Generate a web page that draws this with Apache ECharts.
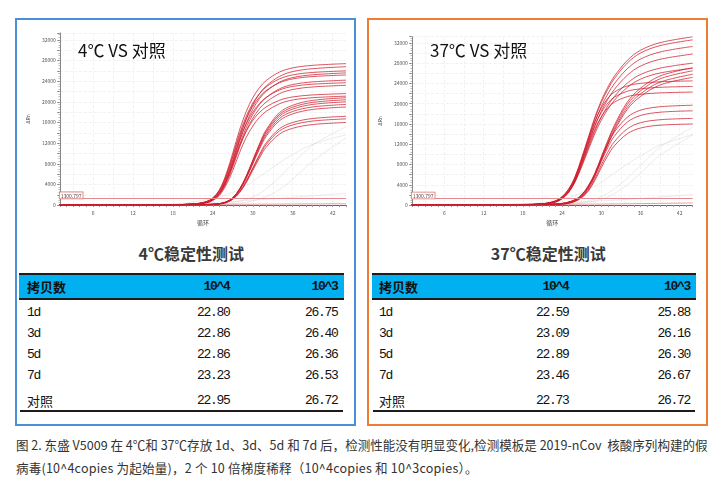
<!DOCTYPE html>
<html><head><meta charset="utf-8">
<script src="https://cdn.jsdelivr.net/npm/echarts@6.0.0/dist/echarts.min.js"></script>
<style>
html,body{margin:0;padding:0;background:#fff;}
body{width:718px;height:485px;position:relative;overflow:hidden;font-family:"Noto Sans CJK SC","Noto Sans",sans-serif;}
.box{position:absolute;top:18px;width:341px;height:408px;box-sizing:border-box;border:2px solid;}
.chart{position:absolute;top:21px;width:334px;height:210px;}
.ttl{position:absolute;font-weight:bold;font-size:16px;color:#3a3a3a;line-height:20px;top:243px;white-space:nowrap;}
.hdr{position:absolute;top:273px;height:27px;background:#00b0f0;border-top:2px solid #1c1c1c;border-bottom:2px solid #1c1c1c;box-sizing:border-box;}
.cell{position:absolute;line-height:20px;height:20px;font-size:13px;color:#111;white-space:nowrap;}
.mono{font-family:"Liberation Mono",monospace;letter-spacing:-1.3px;}
.rule{position:absolute;top:409.5px;height:2px;background:#1c1c1c;}
.cap{position:absolute;left:16px;font-size:12.55px;color:#333;line-height:16px;white-space:nowrap;}
</style></head><body>
<div class="box" style="left:15px;border-color:#4a90d9;"></div>
<div class="box" style="left:367px;border-color:#ee7d31;"></div>
<div id="chartL" class="chart" style="left:18px;"></div>
<div id="chartR" class="chart" style="left:370px;"></div>
<div id="tables"></div>
<div class="cap" style="top:437px;">图 2. 东盛 V5009 在 4℃和 37℃存放 1d、3d、5d 和 7d 后，检测性能没有明显变化,检测模板是 2019-nCov&nbsp; 核酸序列构建的假</div>
<div class="cap" style="top:460px;letter-spacing:0.2px;">病毒(10^4copies 为起始量)，2 个 10 倍梯度稀释（10^4copies 和 10^3copies）。</div>
<script>
// ---------- data ----------
const CYCLES = [1, 18, 21, 23, 24, 25, 26, 27, 28, 29, 30, 31, 32, 34, 36, 39, 44];
const Y_TICKS = [0, 4000, 8000, 12000, 16000, 20000, 24000, 28000, 32000];
const X_TICKS = [6, 12, 18, 24, 30, 36, 42];
const THRESHOLD_4C = 1300.797;
const THRESHOLD_37C = 1300.797;

const AMP_4C_1E4 = [
 [80,110,220,690,1420,3010,6030,10140,14520,18080,20820,22740,24110,25760,26580,27070,27400],
 [80,110,190,540,1130,2410,4960,8580,12860,16620,19430,21570,23050,24920,25860,26420,26800],
 [80,100,210,650,1350,2860,5720,9620,13780,17160,19760,21580,22880,24440,25220,25690,26000],
 [80,100,180,510,1080,2300,4740,8190,12290,15870,18560,20610,22020,23810,24700,25240,25600],
 [80,100,200,630,1310,2770,5540,9320,13360,16630,19150,20920,22180,23690,24440,24900,25200],
 [70,100,170,480,1020,2180,4480,7740,11620,15000,17550,19480,20810,22510,23350,23860,24200],
 [70,95,190,590,1230,2610,5210,8770,12560,15640,18010,19670,20860,22280,22990,23420,23700],
 [70,90,160,460,970,2090,4290,7420,11140,14380,16820,18680,19950,21580,22390,22880,23200],
 [65,90,170,540,1120,2380,4750,7990,11450,14260,16420,17930,19010,20300,20950,21340,21600],
 [60,80,150,420,890,1900,3900,6750,10130,13080,15300,16990,18150,19620,20360,20800,21100]
];
const AMP_4C_1E3 = [
 [60,60,80,120,170,290,620,1460,3120,5620,8740,11860,14560,17890,19340,20280,20800],
 [60,60,80,120,160,290,610,1430,3060,5510,8570,11630,14280,17540,18970,19890,20400],
 [60,60,80,120,160,280,600,1400,3000,5400,8400,11400,14000,17200,18600,19500,20000],
 [60,60,80,120,160,270,590,1370,2930,5270,8190,11120,13650,16770,18140,19010,19500],
 [60,60,80,110,150,270,570,1330,2850,5130,7980,10830,13300,16340,17670,18530,19000],
 [50,50,70,100,140,240,520,1200,2580,4640,7220,9800,12040,14790,16000,16770,17200],
 [50,50,70,100,130,230,500,1170,2510,4510,7010,9520,11690,14360,15530,16280,16700],
 [50,50,60,100,130,220,480,1120,2400,4320,6720,9120,11200,13760,14880,15600,16000]
];
const BG_4C = [
 [0,30,50,80,100,130,180,260,380,560,820,1180,1650,3000,5000,8500,13000],
 [0,40,70,120,160,230,340,500,740,1090,1580,2250,3100,5400,8000,11600,15200],
 [0,100,250,400,480,560,640,720,800,880,960,1040,1120,1300,1500,1800,2300],
 [0,200,600,1000,1300,1600,2000,2500,3100,3800,4600,5500,6400,8200,9800,11800,13600]
];
const NEG_4C = [100,120,130,140,140,150,150,160,160,170,170,180,180,200,210,230,260];

const AMP_37C_1E4 = [
 [100,130,270,830,1660,3150,5640,9300,13280,17260,20580,23240,25400,28550,30540,32040,33200],
 [100,130,260,820,1630,3100,5540,9130,13040,16950,20210,22820,24940,28040,29990,31460,32600],
 [90,130,250,780,1570,2970,5320,8760,12520,16280,19410,21910,23940,26920,28800,30200,31300],
 [90,120,240,750,1490,2830,5070,8340,11920,15500,18480,20860,22800,25630,27420,28760,29800],
 [80,110,220,700,1400,2660,4760,7840,11200,14560,17360,19600,21420,24080,25760,27020,28000],
 [80,110,220,680,1350,2570,4590,7560,10800,14040,16740,18900,20660,23220,24840,26060,27000],
 [70,100,200,640,1350,2700,5150,8820,12740,16420,19110,21070,22300,23520,24010,24330,24500],
 [70,90,190,610,1290,2570,4910,8420,12170,15680,18250,20120,21290,22460,22930,23240,23400],
 [70,90,180,580,1230,2450,4680,8030,11600,14940,17390,19180,20290,21410,21850,22140,22300]
];
const AMP_37C_1E3 = [
 [80,80,140,220,330,600,1080,2030,3790,6230,9490,12740,15720,20330,23040,25470,27100],
 [80,80,130,210,320,580,1060,1990,3710,6100,9280,12460,15370,19880,22530,24910,26500],
 [80,80,130,210,310,570,1030,1940,3610,5930,9030,12130,14960,19350,21930,24250,25800],
 [80,80,130,200,300,550,1010,1890,3530,5800,8820,11840,14620,18900,21420,23690,25200],
 [60,60,100,160,240,430,890,1770,3350,5910,9060,12020,14380,17340,18720,19400,19700],
 [60,60,90,150,220,410,840,1670,3160,5580,8560,11350,13580,16370,17670,18320,18600],
 [50,50,90,140,210,380,770,1540,2910,5130,7870,10430,12480,15050,16250,16840,17100],
 [50,50,80,130,190,350,720,1440,2720,4800,7360,9760,11680,14080,15200,15760,16000]
];
const BG_37C = [
 [0,40,80,140,190,270,390,570,830,1200,1700,2350,3150,5300,7800,11400,15400],
 [0,30,60,100,130,180,260,380,560,820,1180,1650,2250,4000,6300,9800,13800],
 [0,80,200,320,400,470,540,610,680,750,820,890,960,1120,1300,1600,2100],
 [0,150,500,900,1200,1500,1900,2400,3000,3700,4500,5400,6300,8100,9700,11800,13900]
];
const NEG_37C = [100,120,130,140,150,160,170,180,190,200,210,220,230,260,290,340,420];

const ROW_LABELS = ['1d', '3d', '5d', '7d', '对照'];
const HEAD_LABELS = ['拷贝数', '10^4', '10^3'];
const CT_4C_1E4 = [22.80, 22.86, 22.86, 23.23, 22.95];
const CT_4C_1E3 = [26.75, 26.40, 26.36, 26.53, 26.72];
const CT_37C_1E4 = [22.59, 23.09, 22.89, 23.46, 22.73];
const CT_37C_1E3 = [25.88, 26.16, 26.30, 26.67, 26.72];

// ---------- charts ----------
const RED = 'rgba(206,28,44,0.75)';
const GREY = 'rgba(190,190,190,0.3)';
function curveData(arr){ return CYCLES.map((c,i)=>[c, arr[i]]); }
function lineSeries(arr, color, z){
  return {type:'line', data:curveData(arr), symbol:'none', showSymbol:false, smooth:0.35,
    lineStyle:{color:color, width:1}, silent:true, z:z, animation:false};
}
function makeOption(cfg){
  const series = [];
  cfg.grey.forEach(a=>series.push(lineSeries(a, GREY, 2)));
  const neg = lineSeries(cfg.neg, 'rgba(215,60,70,0.5)', 3);
  neg.markLine = {silent:true, symbol:['none','none'], animation:false,
    lineStyle:{color:'#e58b8f', width:1, type:'solid'},
    label:{show:true, position:'insideStartTop', formatter:String(cfg.threshold), fontSize:5, color:'#444',
      backgroundColor:'#fff', borderColor:'#e07070', borderWidth:0.8, padding:[1,1,0,1], distance:[0,0]},
    data:[{yAxis:cfg.threshold}]};
  series.push(neg);
  cfg.groups.forEach(g=>g.forEach(a=>series.push(lineSeries(a, RED, 4))));
  return {
    animation:false,
    textStyle:{fontFamily:'"Noto Sans CJK SC","Noto Sans",sans-serif'},
    title:{text:cfg.title, left:60, top:21, padding:0,
      textStyle:{fontSize:17, fontWeight:'normal', color:'#111', fontFamily:'"Noto Sans CJK SC",sans-serif'}},
    grid:cfg.grid,
    xAxis:{type:'value', min:1, max:44, interval:1, offset:2,
      name:'循环', nameLocation:'middle', nameGap:7, nameTextStyle:{fontSize:6, color:'#444'},
      axisLine:{lineStyle:{color:'#666', width:1}},
      axisTick:{show:true, length:2, lineStyle:{color:'#999'}},
      axisLabel:{fontSize:5, color:'#555', margin:3, formatter:v=>X_TICKS.includes(v)?String(v):''},
      splitLine:{show:true, lineStyle:{color:['rgba(0,0,0,0)','rgba(0,0,0,0)','#efefef'], type:'dashed', width:0.8}}},
    yAxis:{type:'value', min:0, max:cfg.ymax, interval:2000,
      name:'ΔRn', nameLocation:'middle', nameRotate:90, nameGap:18, nameTextStyle:{fontSize:5, color:'#444'},
      axisLine:{show:true, lineStyle:{color:'#888', width:1}},
      axisTick:{show:true, length:2.5, lineStyle:{color:'#888'}},
      minorTick:{show:true, splitNumber:4, length:1.2, lineStyle:{color:'#aaa'}},
      axisLabel:{fontSize:5, color:'#555', margin:4, showMaxLabel:false, formatter:v=>Y_TICKS.includes(v)?String(v):''},
      splitLine:{show:true, lineStyle:{color:'#efefef', type:'dashed', width:0.8}}},
    series:series
  };
}
const chartL = echarts.init(document.getElementById('chartL'));
chartL.setOption(makeOption({title:'4℃ VS 对照', grid:{left:33, right:6, top:12, bottom:23}, ymax:33333,
  threshold:THRESHOLD_4C, grey:BG_4C, neg:NEG_4C, groups:[AMP_4C_1E4, AMP_4C_1E3]}));
const chartR = echarts.init(document.getElementById('chartR'));
chartR.setOption(makeOption({title:'37℃ VS 对照', grid:{left:32.7, right:11.3, top:15.7, bottom:23}, ymax:33222,
  threshold:THRESHOLD_37C, grey:BG_37C, neg:NEG_37C, groups:[AMP_37C_1E4, AMP_37C_1E3]}));

// ---------- tables ----------
const ROW_Y = [312.7, 334, 355.3, 375.7, 400.7];
function el(cls, style, text){
  const d = document.createElement('div'); d.className = cls; d.setAttribute('style', style);
  if (text !== undefined) d.textContent = text;
  document.getElementById('tables').appendChild(d); return d;
}
function buildTable(p){
  el('ttl', 'left:'+(p.titleCx-70)+'px;width:140px;text-align:center;', p.title);
  el('hdr', 'left:'+p.x0+'px;width:'+(p.x1-p.x0)+'px;');
  el('cell', 'top:277.3px;left:'+p.c1+'px;font-weight:bold;', HEAD_LABELS[0]);
  el('cell mono', 'top:277.3px;left:'+(p.c2-100)+'px;width:100px;text-align:right;font-weight:bold;', HEAD_LABELS[1]);
  el('cell mono', 'top:277.3px;left:'+(p.c3-100)+'px;width:100px;text-align:right;font-weight:bold;', HEAD_LABELS[2]);
  ROW_LABELS.forEach((lab,i)=>{
    const t = (ROW_Y[i]-10)+'px';
    el('cell'+(i<4?' mono':''), 'top:'+t+';left:'+p.c1+'px;', lab);
    el('cell mono', 'top:'+t+';left:'+(p.c2-100)+'px;width:100px;text-align:right;', p.v2[i].toFixed(2));
    el('cell mono', 'top:'+t+';left:'+(p.c3-100)+'px;width:100px;text-align:right;', p.v3[i].toFixed(2));
  });
  el('rule', 'left:'+(p.x0+1)+'px;width:'+(p.x1-p.x0-2)+'px;');
}
buildTable({title:'4℃稳定性测试', titleCx:191.3, x0:19, x1:344, c1:27, c2:229.5, c3:337.5, v2:CT_4C_1E4, v3:CT_4C_1E3});
buildTable({title:'37℃稳定性测试', titleCx:548.3, x0:371.5, x1:695.5, c1:379, c2:568.5, c3:690, v2:CT_37C_1E4, v3:CT_37C_1E3});
</script>
</body></html>
